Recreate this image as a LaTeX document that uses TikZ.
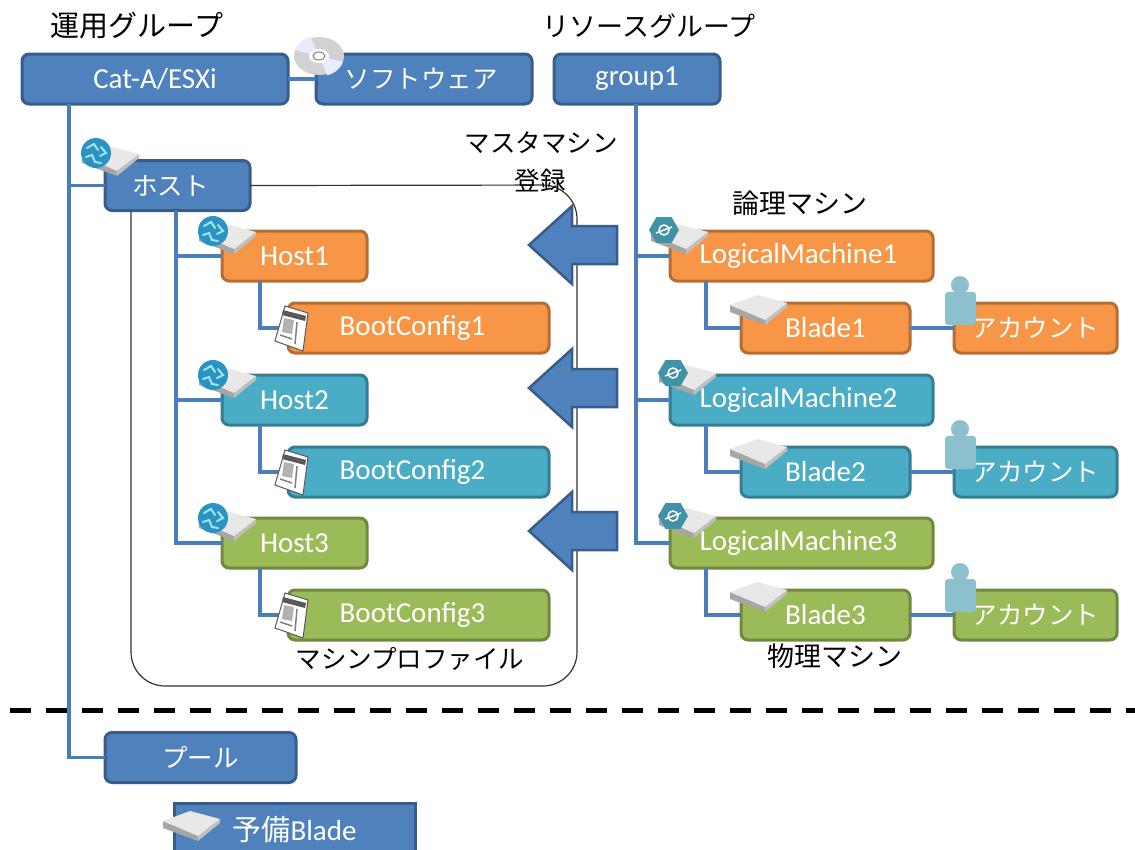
\documentclass[tikz,border=0pt]{standalone}
\usepackage{fontspec}
\setmainfont{Carlito}
\newfontfamily\jpfont{Noto Sans CJK JP}
\newcommand{\jptxt}[1]{{\jpfont\fontsize{25.5}{28}\selectfont #1}}
\definecolor{lineblue}{HTML}{4A7EBB}
\definecolor{fillblue}{HTML}{4F81BD}
\definecolor{edgeblue}{HTML}{385D8A}
\definecolor{fillora}{HTML}{F79646}
\definecolor{edgeora}{HTML}{B66D31}
\definecolor{filltea}{HTML}{4BACC6}
\definecolor{edgetea}{HTML}{357D91}
\definecolor{fillgrn}{HTML}{9BBB59}
\definecolor{edgegrn}{HTML}{71893F}
\definecolor{personcol}{HTML}{8CC0CC}
\definecolor{globecol}{HTML}{2A93BF}
\tikzset{
  box/.style={rounded corners=7pt,line width=3pt,outer sep=0pt,inner sep=0pt,text=white,
    font=\fontsize{29}{31}\selectfont},
  bluebox/.style={box,fill=fillblue,draw=edgeblue},
  orabox/.style={box,fill=fillora,draw=edgeora},
  teabox/.style={box,fill=filltea,draw=edgetea},
  grnbox/.style={box,fill=fillgrn,draw=edgegrn},
  link/.style={draw=lineblue,line width=3.5pt},
  lbl/.style={inner sep=0pt,font=\jpfont\fontsize{25.5}{28}\selectfont},
  biglbl/.style={inner sep=0pt,font=\jpfont\fontsize{27}{30}\selectfont},
  bladeicon/.pic={
    \fill[gray!70] (0,0) -- (35,15) -- (35,20) -- (0,7) -- cycle;
    \fill[gray!50] (35,15) -- (57,-2) -- (57,2) -- (35,20) -- cycle;
    \fill[gray!18] (0,0) -- (27,-10) -- (57,-2) -- (35,15) -- cycle;
  },
  globeicon/.pic={
    \fill[globecol] (0,0) circle (15);
    \draw[cyan!35,line width=2pt,line cap=round] (-9,-5) -- (-2,-9) -- (2,-3);
    \draw[cyan!35,line width=2pt,line cap=round] (5,-6) -- (10,0) -- (4,3);
    \draw[cyan!35,line width=2pt,line cap=round] (-10,4) -- (-4,2) -- (-1,9) -- (5,10);
  },
  hexicon/.pic={
    \fill[filltea!85!black] (0:15) -- (60:15) -- (120:15) -- (180:15) -- (240:15) -- (300:15) -- cycle;
    \draw[white,line width=1.5pt] (0,0) circle (5);
    \draw[white,line width=1.5pt] (-8,3) -- (8,-3);
  },
  personicon/.pic={
    \fill[personcol] (0,-26) circle (9);
    \fill[personcol,rounded corners=3pt] (-15,-19) rectangle (16,14);
  },
  discicon/.pic={
    \fill[gray!35] (0,0) ellipse (25 and 19);
    \fill[blue!8] (0,0) -- (-24,-6) arc (194:250:25 and 19) -- cycle;
    \fill[blue!8] (0,0) -- (24,6) arc (14:70:25 and 19) -- cycle;
    \fill[white] (0,0) ellipse (10 and 7);
    \draw[gray,line width=1pt] (0,0) ellipse (6 and 4);
  },
  newsicon/.pic={
    \fill[white,draw=gray!70!black,line width=1pt] (8,-22) -- (31,-15) -- (26,23) -- (-2,13) -- cycle;
    \fill[gray!70!black] (6,-18) -- (29,-12) -- (28,-7) -- (5,-13) -- cycle;
    \fill[gray!60] (7,-10) -- (17,-8) -- (15,6) -- (5,4) -- cycle;
    \draw[gray,line width=1.5pt] (20,-6) -- (18,16);
    \draw[gray,line width=1.5pt] (3,7) -- (15,11);
  }
}
\begin{document}
\begin{tikzpicture}[x=1pt,y=-1pt]
\useasboundingbox (0,0) rectangle (1135,849);
% dashed border
\coordinate (cutL) at (10,710);
\coordinate (cutR) at (1135,710);
\draw[line width=5pt,dash pattern=on 21pt off 15pt] (cutL) -- (cutR);

% top row
\node[bluebox,minimum width=266pt,minimum height=50pt] (catA) at (155,79) {Cat-A/ESXi};
\node[bluebox,minimum width=216pt,minimum height=50pt] (soft) at (424,79) {\hspace*{-6pt}\jptxt{ソフトウェア}};
\node[bluebox,minimum width=166pt,minimum height=50pt] (group) at (637,79) {group1};
\node[bluebox,minimum width=145pt,minimum height=50pt] (host) at (177.5,185.5) {\hspace*{-14pt}\jptxt{ホスト}};
\node[bluebox,minimum width=191pt,minimum height=50pt] (pool) at (200.5,757.5) {\jptxt{プール}};
\node[box,fill=fillblue,draw=edgeblue,rounded corners=0pt,minimum width=241pt,minimum height=56pt] (spare) at (294.5,831) {\raisebox{5pt}{{\jpfont 予備}Blade}};

% three rows
\foreach \n/\y/\c in {1/256/orabox,2/400/teabox,3/543/grnbox} {
  \node[\c,minimum width=145pt,minimum height=50pt] (hostm\n) at (294.5,\y) {Host\n};
  \node[\c,minimum width=261pt,minimum height=50pt] (boot\n) at (418.5,\y+72) {\hspace*{-12pt}BootConfig\n};
  \node[\c,minimum width=263pt,minimum height=50pt] (logic\n) at (801.5,\y) {\hspace*{-6pt}LogicalMachine\n};
  \node[\c,minimum width=169pt,minimum height=50pt] (blade\n) at (825.5,\y+72) {Blade\n};
  \node[\c,minimum width=163pt,minimum height=50pt] (acct\n) at (1035.5,\y+72) {\jptxt{アカウント}};
  \coordinate (hostdrop\n) at (260,\y+25);
  \coordinate (logicdrop\n) at (706,\y+25);
  \draw[link] (hostdrop\n) |- (boot\n.west);
  \draw[link] (logicdrop\n) |- (blade\n.west);
  \draw[link] (blade\n.east) -- (acct\n.west);
}

% trunks
\coordinate (catdrop) at (69,104);
\coordinate (hostdrop) at (176,211);
\coordinate (groupdrop) at (636,104);
\draw[link] (catA.east) -- (soft.west);
\draw[link] (catdrop) |- (host.west);
\draw[link] (catdrop) |- (pool.west);
\foreach \n in {1,2,3} {
  \draw[link] (hostdrop) |- (hostm\n.west);
  \draw[link] (groupdrop) |- (logic\n.west);
}

% machine profile outline
\coordinate (profend) at (131,211);
\draw[black!80,line width=1.2pt,rounded corners=34pt] (host.east) -- (577,185) -- (577,686) -- (131,686) -- (profend);

% arrows to the profile
\foreach \y in {245,388,531}
  \draw[fill=fillblue,draw=edgeblue,line width=2.5pt] (529,\y) -- (572,\y-39) -- (572,\y-19)
    -- (617,\y-19) -- (617,\y+19) -- (572,\y+19) -- (572,\y+39) -- cycle;

% icons
\pic at (319,56) {discicon};
\pic at (82,156) {bladeicon};
\pic at (96,153) {globeicon};
\foreach \y in {231,375,518} {
  \pic at (199,\y+3) {bladeicon};
  \pic at (213,\y) {globeicon};
}
\pic at (651,234) {bladeicon};
\pic at (664,230) {hexicon};
\foreach \y in {375,518} {
  \pic at (659,\y) {bladeicon};
  \pic at (673,\y-2) {hexicon};
}
\foreach \y/\z in {305/328,449/472,592/615} {
  \pic at (730,\y) {bladeicon};
  \pic at (277,\z) {newsicon};
  \pic at (960,\z-17) {personicon};
}
\pic at (163,821) {bladeicon};

% labels
\node[inner sep=0pt,font=\jpfont\fontsize{29}{32}\selectfont] (opgroup) at (137,26) {運用グループ};
\node[biglbl] (resgroup) at (649,26) {リソースグループ};
\node[lbl] (master) at (541,143) {マスタマシン};
\node[lbl] (regist) at (540,181) {登録};
\node[biglbl] (logiclbl) at (800,203) {論理マシン};
\node[biglbl] (physlbl) at (835,656) {物理マシン};
\node[lbl] (proflbl) at (410,659) {マシンプロファイル};
\end{tikzpicture}
\end{document}
